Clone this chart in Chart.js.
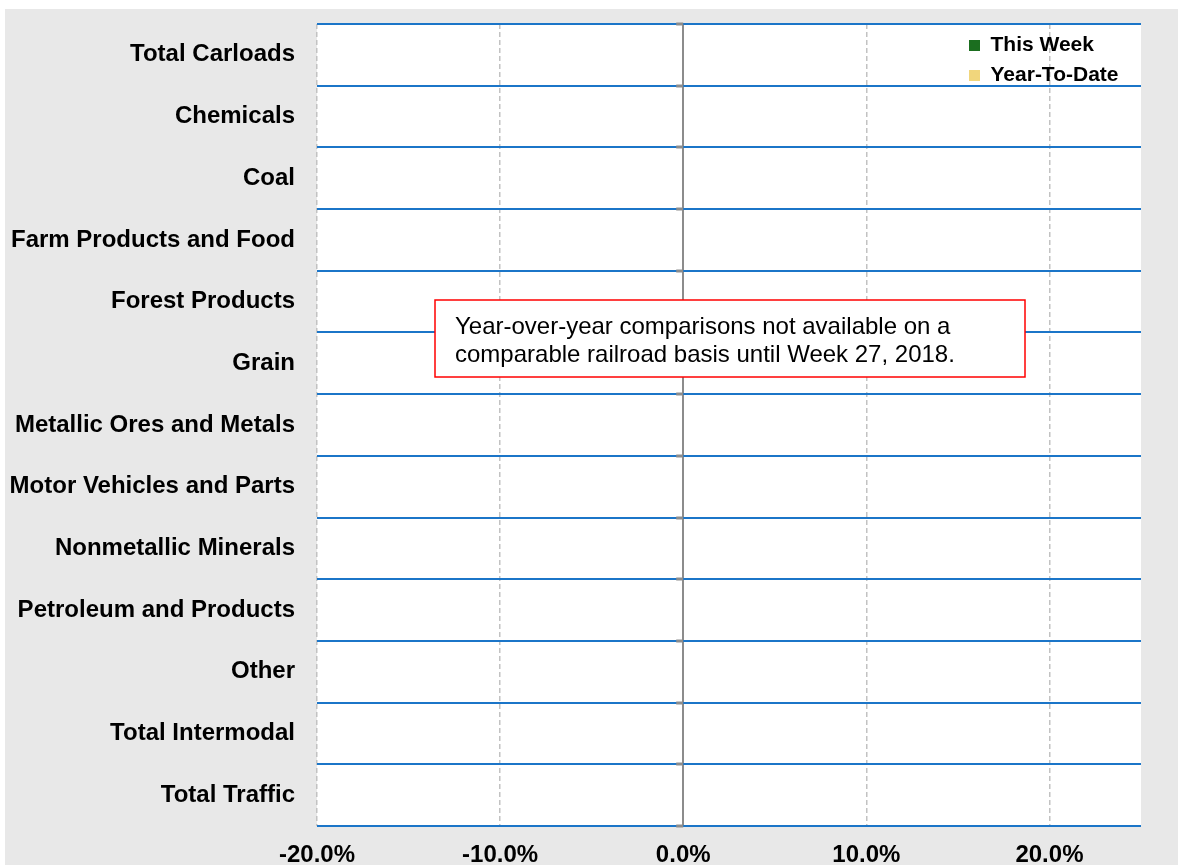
<!DOCTYPE html>
<html>
<head>
<meta charset="utf-8">
<script src="https://cdn.jsdelivr.net/npm/chart.js@4/dist/chart.umd.min.js"></script>
<style>
  html, body { margin: 0; padding: 0; background: #fff; }
  #wrap { width: 1178px; height: 865px; position: relative; }
</style>
</head>
<body>
<div id="wrap"><canvas id="chart"></canvas></div>
<script>
// categories (top to bottom)
const categories = [
  'Total Carloads',
  'Chemicals',
  'Coal',
  'Farm Products and Food',
  'Forest Products',
  'Grain',
  'Metallic Ores and Metals',
  'Motor Vehicles and Parts',
  'Nonmetallic Minerals',
  'Petroleum and Products',
  'Other',
  'Total Intermodal',
  'Total Traffic'
];

// no values published yet - both series are empty
const thisWeek    = [null, null, null, null, null, null, null, null, null, null, null, null, null];
const yearToDate  = [null, null, null, null, null, null, null, null, null, null, null, null, null];

const xTicks = [-20, -10, 0, 10, 20];
const xMin = -20;
const xMax = 25;

const noteLines = [
  'Year-over-year comparisons not available on a',
  'comparable railroad basis until Week 27, 2018.'
];

const FONT = "'Liberation Sans', Arial, sans-serif";
const BLUE = '#1b75c8';

// grey frame + white plot, the note box and the small ticks on the zero axis
const framePlugin = {
  id: 'frame',
  beforeDraw(chart) {
    const ctx = chart.ctx, a = chart.chartArea;
    ctx.save();
    ctx.fillStyle = '#e8e8e8';
    ctx.fillRect(5, 9, chart.width - 5, chart.height - 9);
    ctx.fillStyle = '#ffffff';
    ctx.fillRect(a.left, a.top, a.right - a.left, a.bottom - a.top);
    ctx.restore();
  },
  afterLayout(chart) {
    const lg = chart.legend;
    if (!lg) return;
    lg.left = chart.chartArea.right - 181;
    lg.top = chart.chartArea.top + 2;
  },
  afterDraw(chart) {
    const ctx = chart.ctx, a = chart.chartArea;
    const xs = chart.scales.x, ys = chart.scales.y;
    const x0 = xs.getPixelForValue(0);
    ctx.save();
    // little tick marks on the vertical axis
    ctx.strokeStyle = '#8c8c8c';
    ctx.lineWidth = 3;
    for (let i = 0; i <= categories.length; i++) {
      const y = Math.round(ys.getPixelForValue(i - 0.5));
      ctx.beginPath();
      ctx.moveTo(x0 - 7, y);
      ctx.lineTo(x0, y);
      ctx.stroke();
    }
    // note box
    const bx = a.left + 118, by = a.top + 276, bw = 590, bh = 77;
    ctx.fillStyle = '#ffffff';
    ctx.fillRect(bx, by, bw, bh);
    ctx.strokeStyle = '#ff0000';
    ctx.lineWidth = 1.5;
    ctx.strokeRect(bx, by, bw, bh);
    ctx.fillStyle = '#000';
    ctx.font = '24px ' + FONT;
    ctx.textBaseline = 'alphabetic';
    ctx.textAlign = 'left';
    noteLines.forEach(function (t, i) {
      ctx.fillText(t, bx + 20, by + 34 + i * 28);
    });
    ctx.restore();
  }
};

const ctx = document.getElementById('chart');
const myChart = new Chart(ctx, {
  type: 'bar',
  data: {
    labels: categories,
    datasets: [
      { label: 'This Week', data: thisWeek, backgroundColor: '#1b6e1f', borderWidth: 0 },
      { label: 'Year-To-Date', data: yearToDate, backgroundColor: '#f1d67c', borderWidth: 0 }
    ]
  },
  options: {
    indexAxis: 'y',
    responsive: true,
    maintainAspectRatio: false,
    animation: false,
    layout: { padding: { top: 24, right: 37, left: 0, bottom: 0 } },
    plugins: {
      tooltip: { enabled: false },
      legend: {
        position: 'chartArea',
        align: 'start',
        labels: {
          color: '#000',
          font: { family: FONT, size: 21, weight: 'bold' },
          boxWidth: 11,
          boxHeight: 11,
          padding: 9
        }
      }
    },
    scales: {
      x: {
        min: xMin,
        max: xMax,
        afterBuildTicks: function (scale) {
          scale.ticks = xTicks.map(v => ({ value: v }));
        },
        afterFit: function (scale) { scale.height = 39; },
        border: {
          display: false,
          dash: c => (c.tick && c.tick.value === 0) ? [] : [5, 3]
        },
        grid: {
          drawTicks: false,
          color: c => (c.tick && c.tick.value === 0) ? '#8c8c8c' : '#c2c2c2',
          lineWidth: c => (c.tick && c.tick.value === 0) ? 2 : 1.5
        },
        ticks: {
          padding: 15,
          color: '#000',
          font: { family: FONT, size: 24, weight: 'bold' },
          maxRotation: 0,
          callback: v => v.toFixed(1) + '%'
        }
      },
      y: {
        afterFit: function (scale) {
          scale.width = 317;
          scale.paddingTop = 0;
          scale.paddingBottom = 0;
        },
        border: { display: false },
        grid: {
          offset: true,
          drawTicks: false,
          color: BLUE,
          lineWidth: 2
        },
        ticks: {
          padding: 22,
          color: '#000',
          font: { family: FONT, size: 24, weight: 'bold' }
        }
      }
    }
  },
  plugins: [framePlugin]
});
</script>
</body>
</html>
